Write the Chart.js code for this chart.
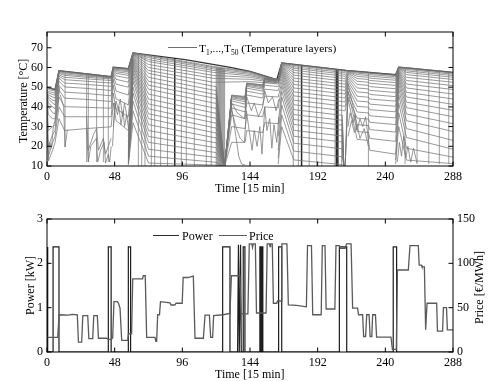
<!DOCTYPE html>
<html><head><meta charset="utf-8">
<script src="https://cdn.jsdelivr.net/npm/chart.js@4/dist/chart.umd.min.js"></script>
<style>
body{margin:0;width:491px;height:381px;position:relative;background:#fff;font-family:"Liberation Serif","Times New Roman",serif;overflow:hidden}
canvas{position:absolute;left:0}
.t{position:absolute;font-size:12px;color:#000;white-space:nowrap;line-height:12px}
.lg{position:absolute;height:0}
sub{font-size:7.5px;vertical-align:-3px;line-height:0}
</style></head>
<body>
<canvas id="c1" width="491" height="200" style="top:0"></canvas>
<canvas id="c2" width="491" height="181" style="top:200px"></canvas>

<div class="lg" style="left:168px;top:47px;width:29px;border-top:1px solid #6e6e6e"></div>
<div class="t" style="left:199px;top:42px;font-size:11.4px">T<sub>1</sub>,...,T<sub>50</sub> (Temperature layers)</div>
<div class="t" data-cx="250" data-cy="188">Time [15 min]</div>
<div class="t" data-cx="23" data-cy="101" data-rot="1">Temperature [°C]</div>

<div class="lg" style="left:153px;top:235px;width:26px;border-top:1.3px solid #2a2a2a"></div>
<div class="t" style="left:182px;top:230px">Power</div>
<div class="lg" style="left:219px;top:235px;width:28px;border-top:1.3px solid #5a5a5a"></div>
<div class="t" style="left:249px;top:230px">Price</div>
<div class="t" data-cx="250" data-cy="374">Time [15 min]</div>
<div class="t" data-cx="30" data-cy="285" data-rot="1">Power [kW]</div>
<div class="t" data-cx="479" data-cy="287" data-rot="1">Price [€/MWh]</div>

<script>
// place axis titles centred on given points, rounded to whole pixels
document.querySelectorAll('[data-cx]').forEach(el => {
  const w = el.offsetWidth, h = el.offsetHeight;
  const cx = +el.dataset.cx, cy = +el.dataset.cy;
  if (el.dataset.rot) {
    el.style.transformOrigin = '0 0';
    el.style.transform = 'rotate(-90deg)';
    el.style.left = Math.round(cx - h / 2) + 'px';
    el.style.top = Math.round(cy + w / 2) + 'px';
  } else {
    el.style.left = Math.round(cx - w / 2) + 'px';
    el.style.top = Math.round(cy - h / 2) + 'px';
  }
});

// ---------- tick labels ----------
const timeTicks = [0, 48, 96, 144, 192, 240, 288];
const tempTicks = [10, 20, 30, 40, 50, 60, 70];
const powerTicks = [0, 1, 2, 3];
const priceTicks = [0, 50, 100, 150];

// ---------- top chart: temperature layers ----------
// top layer T1 (envelope)
const topLayer = [[0,49.9],[5.7,48.7],[8.5,58.4],[45.5,55.3],[47,60.1],[57.7,59.4],[61,67.4],[98,64],[130,60],[144,58],[163,53.8],[166.5,62.3],[212,58.5],[247.3,56.3],[249.5,60.2],[288,57.5]];

// period t = 0 .. 45.5 (rows = temperatures of the layers at each time)
const segATimes = [0, 1, 4, 5.7, 8.5, 12.5, 28, 45.5];
const segATemps = [
 [49.9,49.2,48.5,48,47.5,47,46.5,46,45,44,42,40,36,30],
 [49.7,48.8,47.8,47,46,45,44,42,40,36,28,20,15,12.5],
 [49.1,48.3,47.3,46.3,45,43.5,42,40,37,34,30,26,22,18],
 [48.7,48,47,46,44.5,43,41,39,36.5,34,31,28,25,22],
 [58.4,58.2,57.9,57.5,57,56.3,55.5,54.5,53,51,48.5,45,40,34],
 [58,57.7,57.3,56.7,56,55,53.8,52.1,50.1,47.5,44.4,40.1,35,28],
 [56.8,56.5,56.1,55.6,55,54.2,53,51.4,49.4,46.8,43.8,39.8,35,29],
 [55.3,55.1,54.9,54.7,54.2,53.4,52.1,50.4,48.3,45.6,42.7,39.3,35,29.9]
];
// t = 45.5 .. 57.7
const segBTimes = [45.5, 47, 49, 57.7];
const segBTemps = [
 [55.3,55.1,54.9,54.7,54.2,53.4,52.1,50.4,48.3,45.6,42.7,39.3,35,29.9],
 [60.1,60,59.8,59.6,59.3,59,58.5,58,57,56,54,51,47,42],
 [59.9,59.7,59.4,59,58.5,57.8,57,55.8,54,51.5,48,44,39,33],
 [59.4,59.2,58.9,58.4,57.8,57,56,54.5,52.5,50,46,41,35,28]
];
// t = 57.7 .. 118
const segCTimes = [57.7, 61, 72, 118];
const segCTemps = [
 [59.4,59.2,58.9,58.4,57.8,57,56,54.5,52.5,50,46,41,35,28,25,22,20,18,16,15,14,13,12,11.5,11,10.5],
 [67.4,67.3,67.2,67,66.8,66.6,66.3,66,65.6,65.2,64.7,64.2,63.5,62.8,62,61,60,58.5,57,55,53,50,47,43,38,32],
 [66.2,65.7,65,64,63,61.5,60,58.5,57,55,53,51,49,46.5,44,41.5,39,36.5,34,31,28,25,22,18.5,15,11.5],
 [60.5,60,59.3,58.5,57.5,56,54.5,52.5,50.5,48.5,46.5,44.5,42,39.5,37,34.5,32,29.5,27,24.5,22,19.5,17,14.5,12,10.5]
];
// upper layers t = 118 .. 163
const segC2Times = [118, 144, 163];
const segC2Temps = [
 [60.5,60,59.3,58.5,57.5,56,54.5,52.5],
 [58,57.6,57.1,56.5,55.8,55,54,52.8],
 [53.8,53.6,53.4,53.2,53,52.7,52.4,52]
];
// lower layers emptied t = 118 .. 126
const segC3Times = [118, 120, 126];
const segC3Temps = [
 [50.5,48.5,46.5,44.5,42,39.5,37,34.5,32,29.5,27,24.5,22,19.5,17,14.5,12,10.5],
 [50.3,48.3,46.3,44.3,41.8,39.3,36.8,34.3,31.8,29.3,26.8,24.3,21.8,19.3,16.8,14.3,11.8,10.4],
 [10,10,10,10,10,10,10,10,10,10,10,10,10,10,10,10,10,10]
];
// reheated lower layers t = 126 .. 164
const segDTimes = [126, 131, 140.5, 141.7, 153, 154.5, 164];
const segDTemps = [
 [10,10,10,10,10,10,10,10,10,10,10,10],
 [46,45.8,45.5,45.1,44.6,44,43,41.5,39.5,36,30,22],
 [45.3,45,44.6,44.1,43.5,42.6,41.4,39.7,37.4,34,29,22],
 [52.1,52,51.8,51.5,51,50.4,49.5,48,46,42,36,28],
 [51.2,51,50.7,50.3,49.7,49,48,46.5,44.5,41,35,27],
 [54.7,54.6,54.4,54.1,53.7,53.1,52.3,51,49,45.5,40,32],
 [54.1,53.9,53.7,53.4,53,52.4,51.6,50.3,48.3,45,39.5,31.5]
];
// t = 164 .. 210.5
const segETimes = [164, 166.5, 175, 209.5, 210.5];
const segETemps = [
 [53.8,53.6,53.4,53.2,53,52.7,52.4,52,54.1,53.9,53.7,53.4,53,52.4,51.6,50.3,48.3,45,39.5,31.5,25,18,14,11],
 [62.3,62.2,62.1,62,61.8,61.6,61.3,61,60.6,60.2,59.7,59.1,58.4,57.6,56.6,55.4,54,52.4,50.5,48,45,41,36,30],
 [61.6,61.1,60.4,59.6,58.6,57.4,56.1,54.6,53.1,51.4,49.6,47.6,45.6,43.4,41.1,38.6,36.1,33.6,31.1,28.1,25.1,21.6,17.6,13.1],
 [58.7,58.2,57.5,56.7,55.7,54.5,53.2,51.7,50.2,48.5,46.7,44.7,42.7,40.5,38.2,35.7,33.2,30.7,28.2,25.2,22.2,18.7,14.7,10.7],
 [58.6,58.1,57.4,56.6,55.6,54.4,53.1,51.6,50.1,48.4,46.6,44.6,42.6,40.4,38.1,10,10,10,10,10,10,10,10,10]
];
// t = 210.5 .. 247.3
const segFTimes = [210.5, 211.5, 213.5, 220, 228, 229, 247.3];
const segFTemps = [
 [58.6,58.1,57.4,56.6,55.6,54.4,53.1,51.6,50.1,48.4,46.6,44.6,42.6,40.4,38.1,10,10,10],
 [58.55,58,57.3,56.5,55.5,54.3,53,51.5,50,48.3,46.5,44.5,42.5,40.3,38,10,10,10],
 [58.4,58.3,58.1,57.9,57.6,57.2,56.7,56,55.2,54.2,53,51.5,49.7,47.5,45,52,48,44],
 [58,57.6,57.1,56.4,55.5,54.4,53,51.4,49.6,47.6,45.4,43,40.3,37.4,34.3,31,27.5,23.5],
 [57.5,57.1,56.6,55.9,55,53.9,52.5,50.9,49.1,47.1,44.9,42.5,39.8,36.9,33.8,30.5,27,23],
 [57.4,57,56.4,55.6,54.6,53.4,52,50.3,48.4,46.3,44,41.4,38.6,35.5,32.2,28.5,24,18],
 [56.3,55.9,55.3,54.5,53.5,52.3,50.9,49.2,47.3,45.2,42.9,40.3,37.5,34.4,31,27.2,22.5,16]
];
// t = 247.3 .. 288
const segGTimes = [247.3, 249.5, 255, 288];
const segGTemps = [
 [56.3,55.9,55.3,54.5,53.5,52.3,50.9,49.2,47.3,45.2,42.9,40.3,37.5,34.4,31,27.2,22.5,16,13,11],
 [60.2,60.1,60,59.9,59.7,59.5,59.2,58.8,58.3,57.7,57,56,54.8,53.3,51.5,49,46,42,37,30],
 [59.9,59.5,59,58.3,57.5,56.4,55,53.4,51.6,49.6,47.4,45,42.4,39.6,36.4,33,29,24.5,19,13],
 [57.5,57.1,56.6,55.9,55,53.9,52.5,50.8,48.8,46.5,44,41.3,38.3,35,31.5,27.5,23,18.5,14.5,11.2]
];
// draw-off steps: [time, upper temp, lower temp]
const stepLines = [
 [12.8,58,19.7],[28.1,56.8,12],[29.3,56.7,12],[35.2,56.3,12],[40,55.9,12],[43.5,55.5,12],
 [64.8,67,10],[67.2,66.8,10],[69.5,66.6,10],[74,66,10],[76.4,65.8,10],[80.6,65.4,10],[85.5,65,10],
 [95.3,64.2,10],[98.8,64,10],[104.5,63.3,10],[113,61.4,10],[116.5,60.8,10],
 [120,60.2,10],[120.6,60.1,10],[121.2,60.1,10],[121.8,60,10],[122.4,59.9,10],[123,59.8,10],
 [123.6,59.8,10],[124.2,59.7,10],[124.8,59.6,10],[125.4,59.5,10],[126,59.5,10],
 [174.7,61.6,10],[178.3,61.3,10],[186,60.6,10],[191.3,60.2,10],[194.9,59.9,10],[204.3,59.1,10],[209,58.7,10],
 [228,57.5,10],[254,60,11],[262.5,59.4,11],[270.8,58.8,11],[278.3,58.3,11],[285,57.7,11]
];
// large draw-offs (dark verticals)
const drainLines = [[90.6,64.8,10],[180.6,61.1,10],[205.3,59,10],[206.3,58.9,10]];
// irregular low layers
const lowLayers = [
 [[0.7,13],[2,22],[3.2,19],[4.5,30],[6,34],[7.5,40],[9,50]],
 [[9.5,46],[11.8,40],[12.8,19.7],[14.5,28.5]],
 [[28,29],[29.3,12],[31,20],[35,24],[36,12],[38,18],[40.5,22],[41.5,11.5],[43.5,16],[44.5,12],[45.5,20]],
 [[28.1,35],[29.3,18],[33,26],[35.2,29],[36.5,18],[40,24],[41.5,16],[45.5,24]],
 [[46.5,20],[48,42],[50,36],[51,40],[52.5,31],[54,38],[55,30],[56.5,36],[58,28]],
 [[47,30],[49,43],[50.5,39],[52,44],[53.5,35],[55,42],[57,34]],
 [[130,44],[132,35],[134,25],[136,15],[138,11],[140.5,10.5]],
 [[131,38],[134,30],[137,24],[140,22],[141.5,38],[143,30],[145.5,18],[147,28],[149,20],[151,30],[152.5,16],[154.5,40],[156,28],[158,34],[159.5,19],[161,31],[163,22],[164.5,35]],
 [[131,42],[135,37],[140,34],[141.7,45],[145,38],[147,42],[150,35],[153,40],[154.5,48],[157,42],[160,45],[162.5,38],[164.5,44]],
 [[213.5,30],[215,37],[217,32],[218.5,36],[220,28],[222,34],[224,30],[226,35],[228,23]],
 [[213.5,25],[216,33],[218,27],[220,31],[222,24],[225,29],[228,20]],
 [[248.5,12],[250,22],[251.5,15],[253,25],[254.5,14],[256,20],[258,12],[260,19],[262.5,11.5]]
];

// ---------- bottom chart ----------
const powerKW = [[0,2.37],[0.5,2.37],[0.5,0],[4.3,0],[4.3,2.37],[8.5,2.37],[8.5,0],[43.5,0],[43.5,2.37],[45.5,2.37],[45.5,0],
 [57.7,0],[57.7,2.37],[59.3,2.37],[59.3,0],[124.6,0],[124.6,2.37],[129.8,2.37],[129.8,0],[135.2,0],[135.8,2.42],[136.4,0],
 [136.8,0],[137.3,2.42],[137.8,0],[139.2,0],[139.2,2.37],[140.4,2.37],[140.4,0],[151,0],[151,2.37],[151.6,2.37],[151.6,0],
 [152.4,0],[152.4,2.37],[153.1,2.37],[153.1,0],[164.3,0],[164.3,2.37],[166.5,2.37],[166.5,0],[207.4,0],[207.4,2.37],
 [212.6,2.37],[212.6,0],[245.6,0],[245.6,2.37],[248,2.37],[248,0],[288,0]];
const priceEUR = [[0,16.6],[7.6,16.6],[8.6,42],[15,41.5],[18,42.5],[21.5,42],[22.3,11.2],[24.6,11.2],[25.4,41],[28.9,41],
 [29.7,15],[32.4,15],[33.2,41],[35.7,41],[36.5,15.5],[42.3,15.5],[43.5,14],[45.8,14.5],[46.6,16],[47.5,56.8],[49.9,56.8],
 [50.7,55],[51.8,49.4],[53,13],[57.2,13],[57.8,20.6],[60,20.6],[60.8,82.4],[67.8,82.4],[68.3,86],[69.7,86],[70.7,16.6],
 [76.6,16.6],[77.2,12],[77.8,12],[78.5,42],[79.8,42],[80.5,56.8],[87.2,55.5],[88,53],[90.7,53],[91.5,55],[95.9,55],
 [96.6,84],[100,84],[103.8,85.5],[105,15.5],[110.9,15.5],[112.1,41.6],[115.2,41.6],[116.1,16.6],[117.5,16.6],[118.2,41],
 [125,42],[129.8,43.5],[130.8,86],[136.8,86],[137.6,43],[142.5,43],[143.5,122],[145.3,122],[145.8,118],[146.3,122],
 [147.8,122],[148.6,44],[155.4,44],[156.2,122],[157.8,122],[158.2,119],[158.6,122],[159.8,122],[160.6,55],[163,55],
 [163.5,57.5],[166,57.5],[166.6,122],[170.2,122],[171.2,53],[177,52.5],[184,51],[184.8,120],[187.6,120],[188.5,42],
 [194.5,42],[195.3,120],[197.2,120],[198,48.5],[204.2,48.5],[205,120],[207.3,120],[208,117],[211.5,117],[212.5,122],
 [215.7,122],[216.8,49.4],[220.3,49.4],[221,42],[223.9,42],[224.6,17.5],[226,17.5],[226.8,42],[228.5,42],[229.2,17.5],
 [230.4,17.5],[231,42],[233,42],[233.8,16.7],[244,16.7],[245,3],[247.8,3],[248.6,92.5],[256.3,92.5],[257.5,120],
 [263.4,120],[264,98],[265.5,98],[266,96],[267.7,96],[268.6,25],[269.6,55],[276.4,55],[277,23.5],[280.6,23.5],
 [281.2,50],[283.4,50],[284,25],[288,25]];

// ---------- helpers ----------
const FONT = {family: '"Liberation Serif","Times New Roman",serif', size: 12};
const pts = arr => arr.map(p => ({x: p[0], y: p[1]}));
const LAYER = '#767676';
function lineDs(data, color, width) {
  return {data, borderColor: color, borderWidth: width, pointRadius: 0, fill: false, tension: 0};
}
const tempSets = [];
function addSegment(times, rows) {
  const n = rows[0].length;
  for (let j = 0; j < n; j++) {
    tempSets.push(lineDs(times.map((t, k) => ({x: t, y: rows[k][j]})), LAYER, 0.75));
  }
}
addSegment(segATimes, segATemps);
addSegment(segBTimes, segBTemps);
addSegment(segCTimes, segCTemps);
addSegment(segC2Times, segC2Temps);
addSegment(segC3Times, segC3Temps);
addSegment(segDTimes, segDTemps);
addSegment(segETimes, segETemps);
addSegment(segFTimes, segFTemps);
addSegment(segGTimes, segGTemps);
lowLayers.forEach(l => tempSets.push(lineDs(pts(l), LAYER, 0.75)));
stepLines.forEach(s => tempSets.push(lineDs([{x: s[0], y: s[2]}, {x: s[0], y: s[1]}], '#7e7e7e', 0.75)));
drainLines.forEach(s => tempSets.push(lineDs([{x: s[0], y: s[2]}, {x: s[0], y: s[1]}], '#2a2a2a', 1.5)));
tempSets.push(lineDs(pts(topLayer), '#333', 1.3));

// frame with inward ticks on all four sides, taken from the chart's scales
const frame = {
  id: 'frame',
  afterDatasetsDraw(chart) {
    const {ctx, chartArea: a, scales} = chart;
    ctx.save();
    ctx.strokeStyle = '#000';
    ctx.lineWidth = 1;
    ctx.strokeRect(a.left, a.top, a.right - a.left, a.bottom - a.top);
    const L = 4.5;
    ctx.beginPath();
    const xs = scales.x;
    xs.ticks.forEach(t => {
      const px = xs.getPixelForValue(t.value);
      ctx.moveTo(px, a.bottom); ctx.lineTo(px, a.bottom - L);
      ctx.moveTo(px, a.top); ctx.lineTo(px, a.top + L);
    });
    const yl = scales.y;
    yl.ticks.forEach(t => {
      const py = yl.getPixelForValue(t.value);
      ctx.moveTo(a.left, py); ctx.lineTo(a.left + L, py);
      if (!scales.y2) { ctx.moveTo(a.right, py); ctx.lineTo(a.right - L, py); }
    });
    if (scales.y2) {
      scales.y2.ticks.forEach(t => {
        const py = scales.y2.getPixelForValue(t.value);
        ctx.moveTo(a.right, py); ctx.lineTo(a.right - L, py);
      });
    }
    ctx.stroke();
    ctx.restore();
  }
};

const common = {
  responsive: false, animation: false, events: [],
  plugins: {legend: {display: false}, tooltip: {enabled: false}},
};
function xScale(h) {
  return {type: 'linear', min: 0, max: 288,
    afterBuildTicks: s => { s.ticks = timeTicks.map(v => ({value: v})); },
    afterFit: s => { s.height = h; },
    grid: {display: false, drawTicks: false}, border: {display: false},
    ticks: {font: FONT, color: '#000', padding: 4, maxRotation: 0, autoSkip: false}};
}

new Chart(document.getElementById('c1'), {
  type: 'line',
  data: {datasets: tempSets},
  options: Object.assign({}, common, {
    layout: {padding: {top: 32, right: 38, left: 0, bottom: 0}},
    scales: {
      x: xScale(34),
      y: {type: 'linear', min: 10, max: 78,
        afterBuildTicks: s => { s.ticks = tempTicks.map(v => ({value: v})); },
        afterFit: s => { s.width = 47; },
        grid: {display: false, drawTicks: false}, border: {display: false},
        ticks: {font: FONT, color: '#000', padding: 4}}
    }
  }),
  plugins: [frame]
});

new Chart(document.getElementById('c2'), {
  type: 'line',
  data: {datasets: [
    Object.assign(lineDs(pts(priceEUR), '#5a5a5a', 1.3), {yAxisID: 'y2'}),
    Object.assign(lineDs(pts(powerKW), '#1e1e1e', 1.2), {yAxisID: 'y'})
  ]},
  options: Object.assign({}, common, {
    layout: {padding: {top: 19, right: 0, left: 0, bottom: 0}},
    scales: {
      x: xScale(29),
      y: {type: 'linear', position: 'left', min: 0, max: 3,
        afterBuildTicks: s => { s.ticks = powerTicks.map(v => ({value: v})); },
        afterFit: s => { s.width = 47; },
        grid: {display: false, drawTicks: false}, border: {display: false},
        ticks: {font: FONT, color: '#000', padding: 4}},
      y2: {type: 'linear', position: 'right', min: 0, max: 150,
        afterBuildTicks: s => { s.ticks = priceTicks.map(v => ({value: v})); },
        afterFit: s => { s.width = 38; },
        grid: {display: false, drawTicks: false}, border: {display: false},
        ticks: {font: FONT, color: '#000', padding: 4}}
    }
  }),
  plugins: [frame]
});
</script>
</body></html>
